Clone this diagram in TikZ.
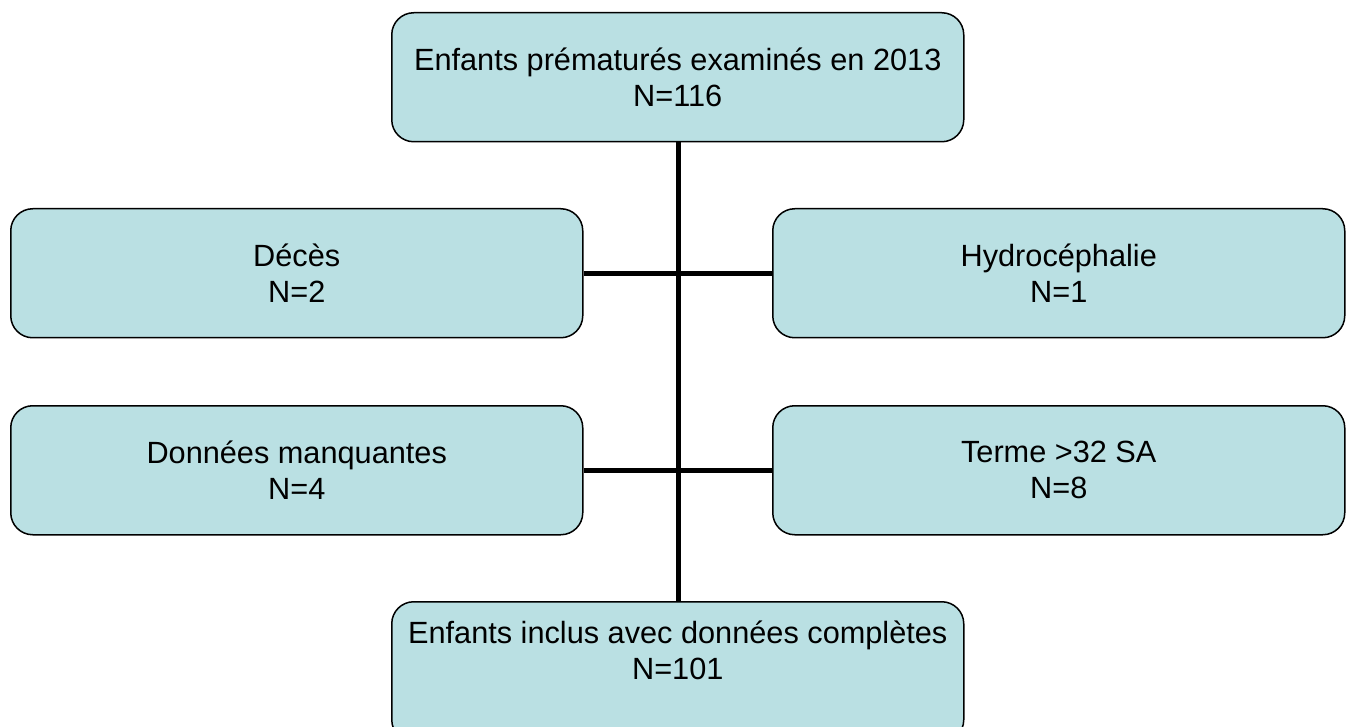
\documentclass[tikz,border=0pt]{standalone}
\usepackage{fontspec}
\setmainfont{Liberation Sans}
\definecolor{boxfill}{RGB}{186,224,227}
\begin{document}
\begin{tikzpicture}[x=1pt,y=-1pt,
  box/.style={draw=black, line width=1.5pt, fill=boxfill, rounded corners=22pt,
    minimum width=572pt, minimum height=129pt, inner sep=0pt, anchor=north west,
    align=center, font=\fontsize{30.7}{36}\selectfont},
  lbl/.style={inner sep=0pt, align=center, font=\fontsize{30.7}{36}\selectfont},
  conn/.style={line width=5pt}]
\useasboundingbox (0,0) rectangle (1350,727);
\clip (0,0) rectangle (1350,727);
\node[box] (top) at (391,12) {Enfants prématurés examinés en 2013\\N=116};
\node[box] (l1) at (10,208) {Décès\\N=2};
\node[box] (r1) at (772,208) {Hydrocéphalie\\N=1};
\node[box] (l2) at (10,405) {Données manquantes\\N=4};
\node[box] (r2) at (772,405) {Terme >32 SA\\N=8};
\node[box, minimum height=140pt] (bot) at (391,601) {};
\node[lbl, anchor=north] (botlbl) at ([yshift=-17pt]bot.north) {\strut Enfants inclus avec données complètes\\N=101};
\draw[conn] (top.south -| 678,0) -- (bot.north -| 678,0);
\draw[conn] (l1.east) -- (r1.west);
\draw[conn] (l2.east) -- (r2.west);
\end{tikzpicture}
\end{document}
